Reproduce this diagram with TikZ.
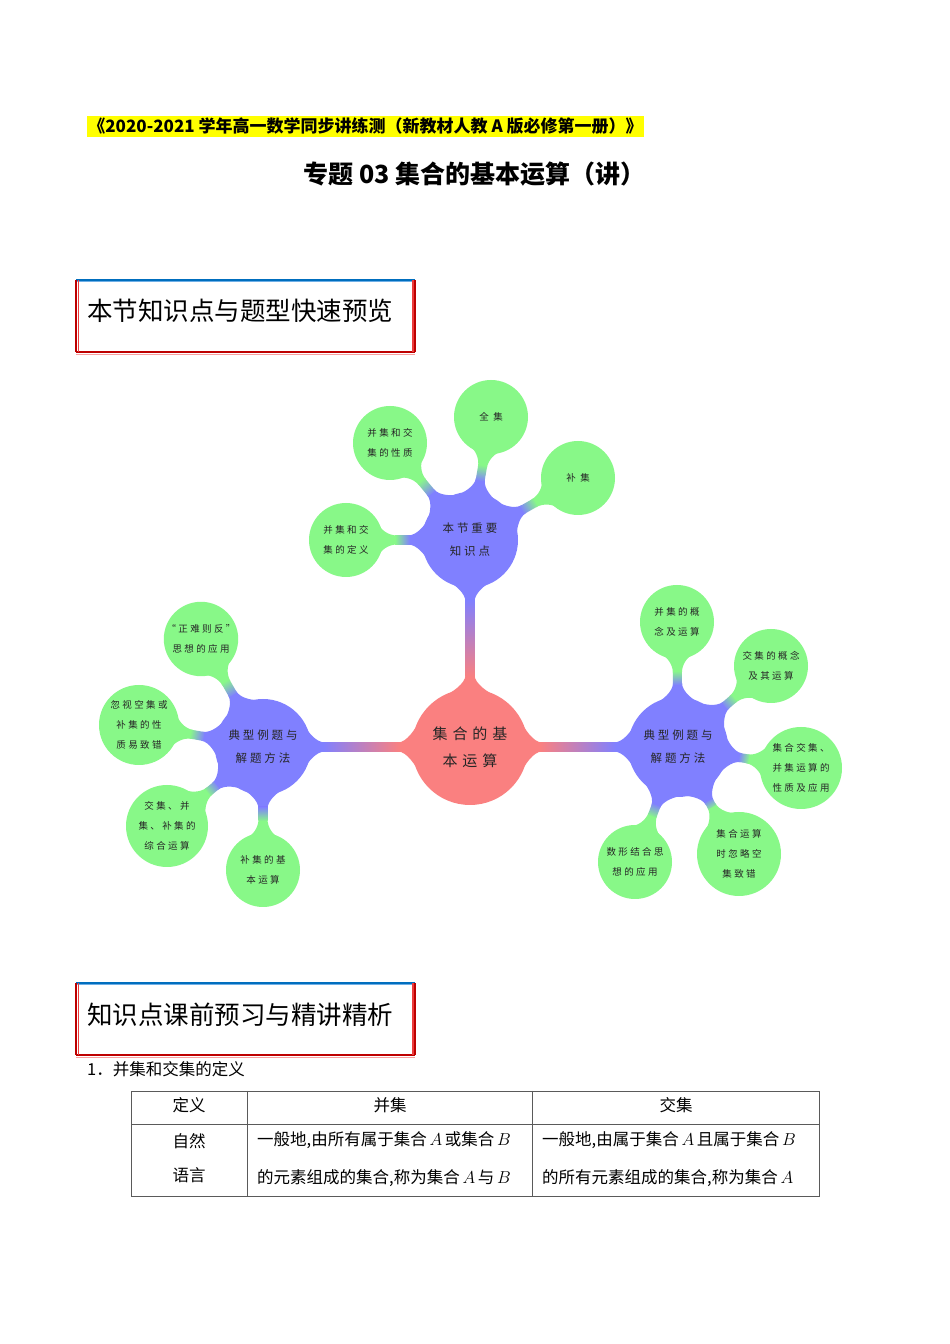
\documentclass[tikz,border=0pt]{standalone}
\usepackage{fontspec}
\setmainfont{Noto Sans CJK SC}
\newfontfamily\mapfont[LetterSpace=25]{Noto Sans CJK SC}
\newfontfamily\corefont[LetterSpace=33]{Noto Sans CJK SC}
\usepackage{tikz}
\usetikzlibrary{
    positioning,
    calc,
    backgrounds
}
\usepackage{xcolor}
\definecolor{mapred}{RGB}{250,128,128}
\definecolor{mappurple}{RGB}{128,128,255}
\definecolor{mapgreen}{RGB}{136,248,136}
\definecolor{hlyellow}{RGB}{255,255,0}
\definecolor{framered}{RGB}{190,0,0}
\definecolor{framelightred}{RGB}{235,60,60}
\definecolor{framepink}{RGB}{250,160,160}
\definecolor{frameblue}{RGB}{0,110,190}
\definecolor{framelightblue}{RGB}{110,175,230}
\definecolor{tabgray}{RGB}{90,90,90}

% flared foot of a branch on a circle of radius #1 (local frame, branch along +x)
\newcommand{\flarepath}[1]{%
  (#1-10, 0) -- ({(#1-1)*cos(26)}, {(#1-1)*sin(26)})
  .. controls ({(#1-1)*cos(26)+6*sin(26)}, {(#1-1)*sin(26)-6*cos(26)}) and (#1+5, 4.5) .. (#1+14, 4.5)
  -- (#1+14, -4.5)
  .. controls (#1+5, -4.5) and ({(#1-1)*cos(26)+6*sin(26)}, {-(#1-1)*sin(26)+6*cos(26)}) .. ({(#1-1)*cos(26)}, {-(#1-1)*sin(26)})
  -- cycle}

% tapered, shaded branch between two circles
\newcommand{\branch}[4]{%
  \pgfmathanglebetweenpoints{\pgfpointanchor{#1}{center}}{\pgfpointanchor{#2}{center}}%
  \let\brang\pgfmathresult
  \pgfmathsetmacro{\shang}{\brang+90}%
  \path let \p1=($(#2)-(#1)$), \n1={veclen(\x1,\y1)},
            \p2=($(#1.east)-(#1.center)$), \n2={\x2},
            \p3=($(#2.east)-(#2.center)$), \n3={\x3}
        in \pgfextra{\xdef\brlen{\n1}\xdef\brra{\n2}\xdef\brrb{\n3}};
  \begin{scope}[on background layer, shift={(#1)}, rotate=\brang]
    \fill[#3] \flarepath{\brra};
    \begin{scope}[shift={(\brlen,0)}, xscale=-1]
      \fill[#4] \flarepath{\brrb};
    \end{scope}
    \shade[top color=#3, bottom color=#4, shading angle=\shang]
      (\brra+12, 4.5) rectangle (\brlen-\brrb-12, -4.5);
  \end{scope}}

% section frame: blue top, red sides and bottom
\newcommand{\secborders}[1]{%
  \draw[framepink, line width=1.5pt] ([yshift=-2.5pt]#1.south west) -- ([yshift=-2.5pt]#1.south east);
  \draw[framered, line width=2.5pt] (#1.south west) -- (#1.south east);
  \draw[framelightblue, line width=1.4pt] ([yshift=-1.8pt]#1.north west) -- ([yshift=-1.8pt]#1.north east);
  \draw[frameblue, line width=1.6pt] (#1.north west) -- (#1.north east);
  \draw[framelightred, line width=1.4pt] ([xshift=2.2pt]#1.north west) -- ([xshift=2.2pt]#1.south west);
  \draw[framered, line width=2.4pt] (#1.north west) -- (#1.south west);
  \draw[framelightred, line width=1.4pt] ([xshift=-2.2pt]#1.north east) -- ([xshift=-2.2pt]#1.south east);
  \draw[framered, line width=2.4pt] (#1.north east) -- (#1.south east);}

\begin{document}
\begin{tikzpicture}[
    x=1pt, y=1pt,
    mapnode/.style={circle, inner sep=0pt, outer sep=0pt, align=center, text=black!85},
    corenode/.style={mapnode, fill=mapred, minimum size=116pt, font=\corefont\fontsize{15}{27}\selectfont},
    hubnode/.style={mapnode, fill=mappurple, minimum size=96pt, font=\mapfont\fontsize{11.5}{23}\selectfont},
    leafnode/.style={mapnode, fill=mapgreen, minimum size=74pt, font=\mapfont\fontsize{9.5}{20}\selectfont},
    bigleaf/.style={leafnode, minimum size=82pt},
    secframe/.style={minimum width=339pt, minimum height=72pt, inner sep=0pt, outer sep=0pt},
    sectitle/.style={anchor=west, inner sep=0pt, font=\fontsize{25.5}{28}\selectfont},
    celltext/.style={inner sep=0pt, font=\fontsize{16.5}{19}\selectfont},
    tabline/.style={tabgray, line width=0.9pt}
]
\useasboundingbox (0,0) rectangle (950,1344);
\begin{scope}[on background layer]
  \fill[white] (0,0) rectangle (950,1344);
\end{scope}

% Heading lines
\node[fill=hlyellow, inner xsep=1pt, inner ysep=0pt, minimum height=21pt,
      font=\bfseries\fontsize{17}{19}\selectfont] (banner) at (365.5,1217.5)
      {《2020-2021 学年高一数学同步讲练测（新教材人教 A 版必修第一册）》};
\node[font=\bfseries\fontsize{25}{28}\selectfont] (title) at (474.5,1170) {专题 03 集合的基本运算（讲）};

% Section 1
\node[secframe] (sec1) at (245.5,1028) {};
\secborders{sec1}
\node[sectitle] (sec1text) at (87,1033) {本节知识点与题型快速预览};

% Mind map: core and hubs
\node[corenode] (core) at (470,597) {集合的基\\本运算};
\node[hubnode] (hubtop) at (470,804) {本节重要\\知识点};
\node[hubnode] (hubleft) at (263,597) {典型例题与\\解题方法};
\node[hubnode, minimum size=100pt] (hubright) at (678,597) {典型例题与\\解题方法};

% Leaves of the top hub
\node[leafnode] (top1) at (491,927) {全 集};
\node[leafnode] (top2) at (578,866) {补 集};
\node[leafnode] (top3) at (390,901) {并集和交\\集的性质};
\node[leafnode] (top4) at (346,804) {并集和交\\集的定义};

% Leaves of the left hub
\node[leafnode] (left1) at (201,705) {“正难则反”\\思想的应用};
\node[bigleaf, minimum size=80pt] (left2) at (139,619) {忽视空集或\\补集的性\\质易致错};
\node[bigleaf] (left3) at (167,518) {交集、并\\集、补集的\\综合运算};
\node[leafnode] (left4) at (263,474) {补集的基\\本运算};

% Leaves of the right hub
\node[leafnode] (right1) at (677,722) {并集的概\\念及运算};
\node[leafnode] (right2) at (771,678) {交集的概念\\及其运算};
\node[bigleaf] (right3) at (801,576) {集合交集、\\并集运算的\\性质及应用};
\node[bigleaf, minimum size=84pt] (right4) at (739,490) {集合运算\\时忽略空\\集致错};
\node[leafnode] (right5) at (635,482) {数形结合思\\想的应用};

% Branches
\branch{core}{hubtop}{mapred}{mappurple}
\branch{core}{hubleft}{mapred}{mappurple}
\branch{core}{hubright}{mapred}{mappurple}
\foreach \leaf in {top1,top2,top3,top4}
  {\branch{hubtop}{\leaf}{mappurple}{mapgreen}}
\foreach \leaf in {left1,left2,left3,left4}
  {\branch{hubleft}{\leaf}{mappurple}{mapgreen}}
\foreach \leaf in {right1,right2,right3,right4,right5}
  {\branch{hubright}{\leaf}{mappurple}{mapgreen}}

% Section 2
\node[secframe] (sec2) at (245.5,325) {};
\secborders{sec2}
\node[sectitle] (sec2text) at (87,329) {知识点课前预习与精讲精析};
\node[sectitle, font=\fontsize{16.5}{19}\selectfont] (item1) at (87,275) {1．并集和交集的定义};

% Table
\draw[tabline] (131,253) rectangle (819,148);
\draw[tabline] (131,220) -- (819,220);
\draw[tabline] (247,253) -- (247,148);
\draw[tabline] (532,253) -- (532,148);
\node[celltext] (hdef) at (189,239) {定义};
\node[celltext] (hunion) at (390,239) {并集};
\node[celltext] (hinter) at (676,239) {交集};
\node[celltext] (nat1) at (189,203) {自然};
\node[celltext] (nat2) at (189,169) {语言};
\node[celltext, anchor=west] (union1) at (257,204) {一般地,由所有属于集合\,$A$\,或集合\,$B$};
\node[celltext, anchor=west] (union2) at (257,166) {的元素组成的集合,称为集合\,$A$\,与\,$B$};
\node[celltext, anchor=west] (inter1) at (542,204) {一般地,由属于集合\,$A$\,且属于集合\,$B$};
\node[celltext, anchor=west] (inter2) at (542,166) {的所有元素组成的集合,称为集合\,$A$};

\end{tikzpicture}
\end{document}
